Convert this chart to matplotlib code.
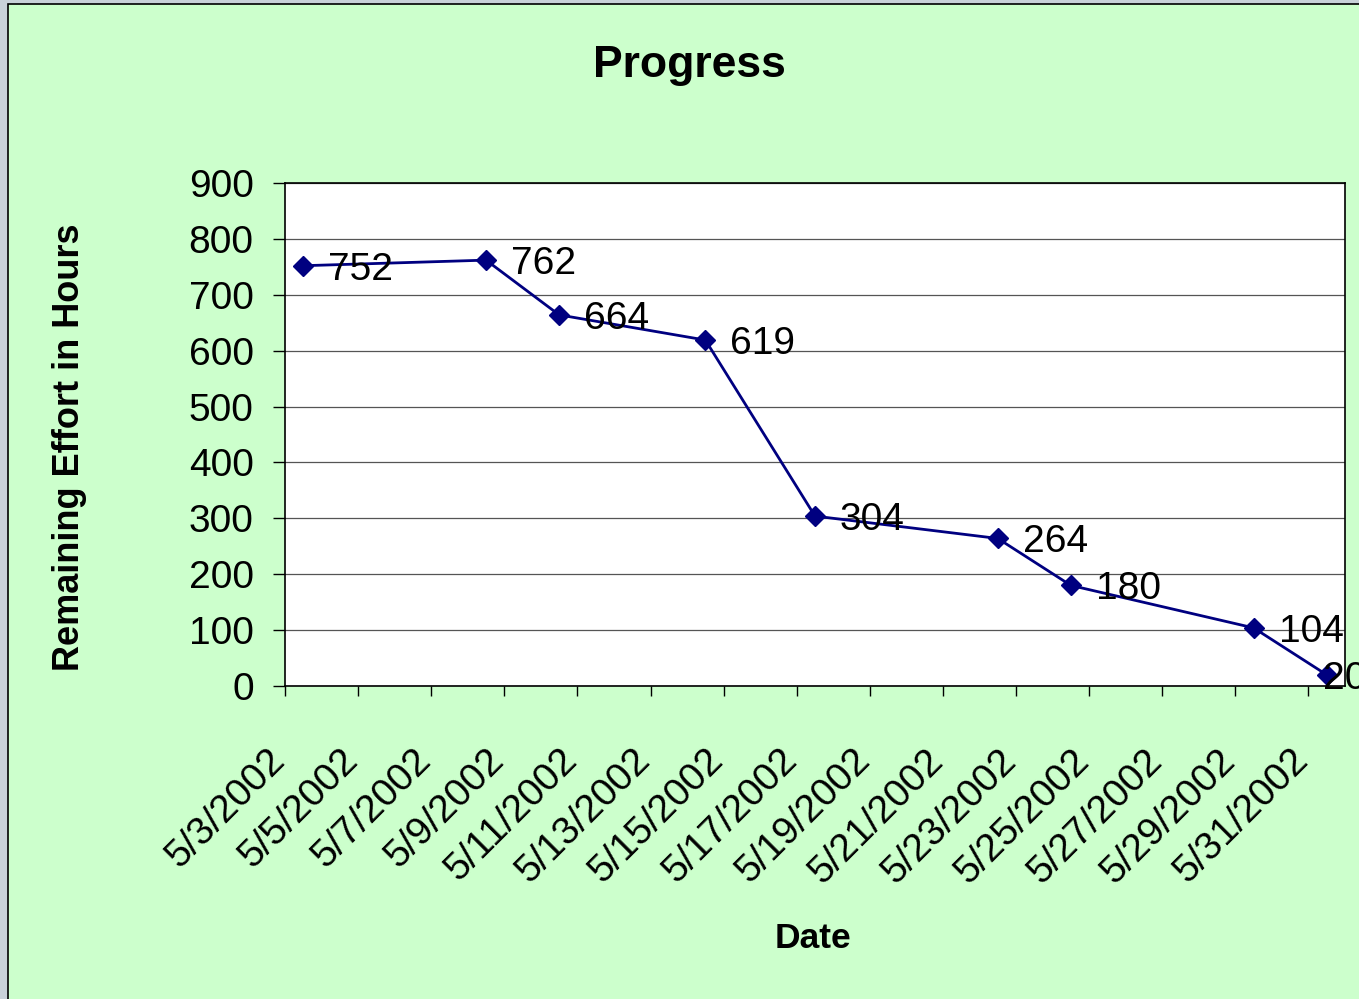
import datetime as dt
import matplotlib
matplotlib.use("Agg")
import matplotlib.pyplot as plt
import matplotlib.dates as mdates
import matplotlib.transforms as mtransforms
from matplotlib.patches import Rectangle

# --- data ---
dates = ["2002-05-03", "2002-05-08", "2002-05-10", "2002-05-14", "2002-05-17",
         "2002-05-22", "2002-05-24", "2002-05-29", "2002-05-31"]
remaining = [752, 762, 664, 619, 304, 264, 180, 104, 20]
x_start = "2002-05-03"
x_end = "2002-06-01"
tick_step_days = 2
y_ticks = [0, 100, 200, 300, 400, 500, 600, 700, 800, 900]

BG_GREEN = "#CCFFCC"
FRAME_GRAY = "#C9D1D9"
NAVY = "#000080"

plt.rcParams['font.family'] = ['Liberation Sans', 'DejaVu Sans']

W, H = 1359, 999
fig = plt.figure(figsize=(W / 100, H / 100), dpi=100, facecolor=FRAME_GRAY)

# green chart area with thin black outline (window chrome in gray)
fig.patches.append(Rectangle((8 / W, -0.05), 1.1, 1 - 4 / H + 0.05,
                             transform=fig.transFigure, facecolor=BG_GREEN,
                             edgecolor="black", linewidth=1.2, zorder=-5))

ax = fig.add_axes([285 / W, 1 - 686 / H, (1345 - 285) / W, (686 - 183) / H])
ax.set_facecolor("white")

d = [dt.date.fromisoformat(s) for s in dates]
# Excel date axis: each point sits in the middle of its day
xs = [mdates.date2num(v) + 0.5 for v in d]
x0 = mdates.date2num(dt.date.fromisoformat(x_start))
x1 = mdates.date2num(dt.date.fromisoformat(x_end))

ax.plot(xs, remaining, color=NAVY, linewidth=2.0, marker="D", markersize=10.5,
        markerfacecolor=NAVY, markeredgecolor=NAVY, zorder=3, clip_on=False)

for i, (x, v) in enumerate(zip(xs, remaining)):
    off = 18 if i < len(xs) - 1 else -3
    ax.annotate(str(v), (x, v), xytext=(off, 0), textcoords="offset points",
                ha="left", va="center_baseline", fontsize=28, color="black",
                zorder=4, annotation_clip=False)

ax.set_xlim(x0, x1)
ax.set_ylim(0, 900)
ax.set_yticks(y_ticks)
ax.set_yticklabels([str(t) for t in y_ticks])

tick_dates = []
t = dt.date.fromisoformat(x_start)
end = dt.date.fromisoformat(x_end)
while t < end:
    tick_dates.append(t)
    t += dt.timedelta(days=tick_step_days)
ax.set_xticks([mdates.date2num(t) for t in tick_dates])
ax.set_xticklabels([f"{t.month}/{t.day}/{t.year}" for t in tick_dates],
                   rotation=45, ha="right", va="top", rotation_mode="anchor")

ax.tick_params(axis="x", direction="out", length=7.5, width=1, pad=33,
               labelsize=28, colors="black")
ax.tick_params(axis="y", direction="out", length=8.5, width=1, pad=14,
               labelsize=28, colors="black")

# nudge the slanted date labels left so their ends sit under the ticks
shift = mtransforms.ScaledTranslation(-13 / 72, 0, fig.dpi_scale_trans)
for lbl in ax.get_xticklabels():
    lbl.set_transform(lbl.get_transform() + shift)

ax.grid(axis="y", color="#555555", linewidth=0.9)
ax.set_axisbelow(True)
for s in ax.spines.values():
    s.set_color("black")
    s.set_linewidth(1.2)

ax.set_ylabel("Remaining Effort in Hours", fontsize=26, fontweight="bold")
ax.yaxis.set_label_coords((70 - 285) / (1345 - 285), (686 - 447) / (686 - 183))
ax.yaxis.label.set_va("center")
ax.set_xlabel("Date", fontsize=25.5, fontweight="bold")
ax.xaxis.set_label_coords((813 - 285) / (1345 - 285), -(939 - 686) / (686 - 183))
ax.xaxis.label.set_va("center")

fig.text(689 / W, 1 - 65 / H, "Progress", ha="center", va="center",
         fontsize=32, fontweight="bold")

fig.savefig("out.png", dpi=100, facecolor=FRAME_GRAY)
